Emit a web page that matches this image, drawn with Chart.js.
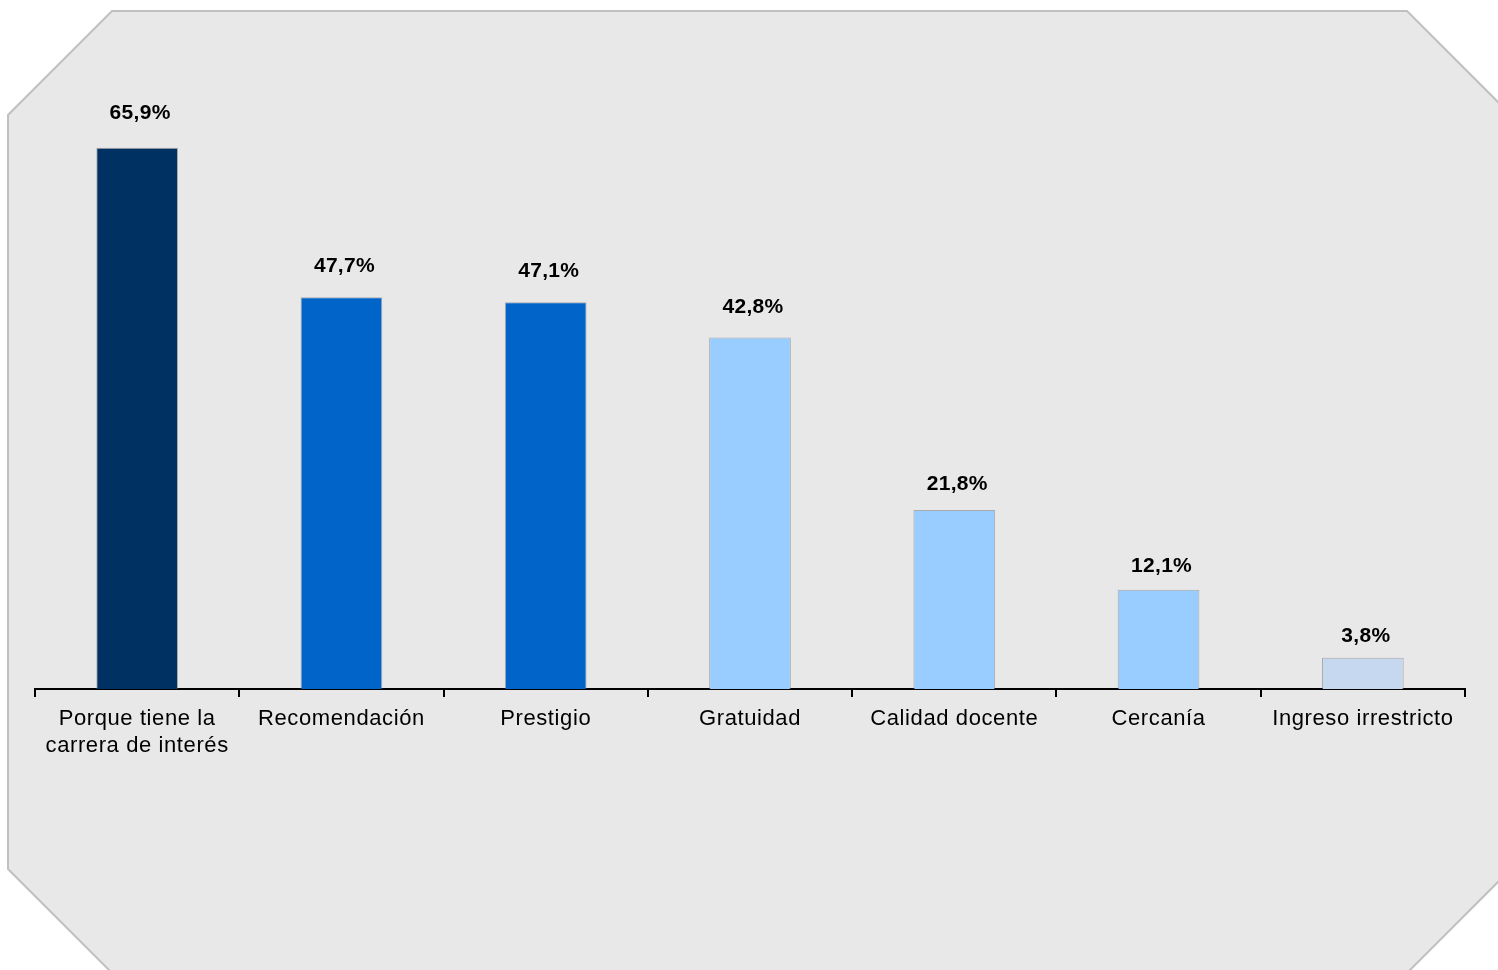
<!DOCTYPE html>
<html>
<head>
<meta charset="utf-8">
<script src="https://cdn.jsdelivr.net/npm/chart.js@4"></script>
<style>
html,body{margin:0;padding:0;background:#fff;}
#c{display:block;}
</style>
</head>
<body>
<canvas id="c" width="1498" height="970"></canvas>
<script>
const categories = [["Porque tiene la","carrera de interés"],"Recomendación","Prestigio","Gratuidad","Calidad docente","Cercanía","Ingreso irrestricto"];
const values = [65.9, 47.7, 47.1, 42.8, 21.8, 12.1, 3.8];
const valueLabels = ["65,9%","47,7%","47,1%","42,8%","21,8%","12,1%","3,8%"];
const barColors = ["#003163","#0064c8","#0064c8","#99ccff","#99ccff","#99ccff","#c5d8ef"];

const octagonBg = {
  id: 'octagonBg',
  beforeDraw(chart) {
    const ctx = chart.ctx;
    const x0 = 8, y0 = 11, x1 = 1511, y1 = 973, c = 104;
    ctx.save();
    ctx.beginPath();
    ctx.moveTo(x0 + c, y0);
    ctx.lineTo(x1 - c, y0);
    ctx.lineTo(x1, y0 + c);
    ctx.lineTo(x1, y1 - c);
    ctx.lineTo(x1 - c, y1);
    ctx.lineTo(x0 + c, y1);
    ctx.lineTo(x0, y1 - c);
    ctx.lineTo(x0, y0 + c);
    ctx.closePath();
    ctx.fillStyle = '#e8e8e8';
    ctx.fill();
    ctx.lineWidth = 2;
    ctx.strokeStyle = '#c0c0c0';
    ctx.stroke();
    ctx.restore();
    ctx.letterSpacing = '0.6px';
  }
};

const valueLabelPlugin = {
  id: 'valueLabels',
  afterDatasetsDraw(chart) {
    const ctx = chart.ctx;
    const meta = chart.getDatasetMeta(0);
    ctx.save();
    ctx.letterSpacing = '0.3px';
    ctx.font = 'bold 21px "Liberation Sans", Arial, sans-serif';
    ctx.fillStyle = '#000';
    ctx.textAlign = 'center';
    ctx.textBaseline = 'middle';
    meta.data.forEach((bar, i) => {
      const h = bar.base - bar.y;
      ctx.fillText(valueLabels[i], bar.x + 3, bar.y - 21 - 0.026 * h);
    });
    ctx.restore();
  }
};

const canvas = document.getElementById('c');

new Chart(canvas, {
  type: 'bar',
  data: {
    labels: categories,
    datasets: [{
      data: values,
      backgroundColor: barColors,
      borderColor: 'rgba(120,120,120,0.55)',
      borderWidth: 1,
      barPercentage: 0.4,
      categoryPercentage: 1.0
    }]
  },
  options: {
    responsive: false,
    devicePixelRatio: 1,
    animation: false,
    layout: { padding: { left: 35, right: 33, top: 32, bottom: 0 } },
    plugins: { legend: { display: false }, tooltip: { enabled: false } },
    scales: {
      y: { display: false, min: 0, max: 80 },
      x: {
        afterFit(scale) { scale.height = 281; },
        grid: {
          offset: true,
          drawOnChartArea: false,
          drawTicks: true,
          tickLength: 8,
          color: '#000',
          lineWidth: 2
        },
        border: { display: true, color: '#000', width: 2 },
        ticks: {
          color: '#000',
          padding: 9,
          maxRotation: 0,
          autoSkip: false,
          font: { family: '"Liberation Sans", Arial, sans-serif', size: 22 },
          lineHeight: 1.24
        }
      }
    }
  },
  plugins: [octagonBg, valueLabelPlugin]
});
</script>
</body>
</html>
